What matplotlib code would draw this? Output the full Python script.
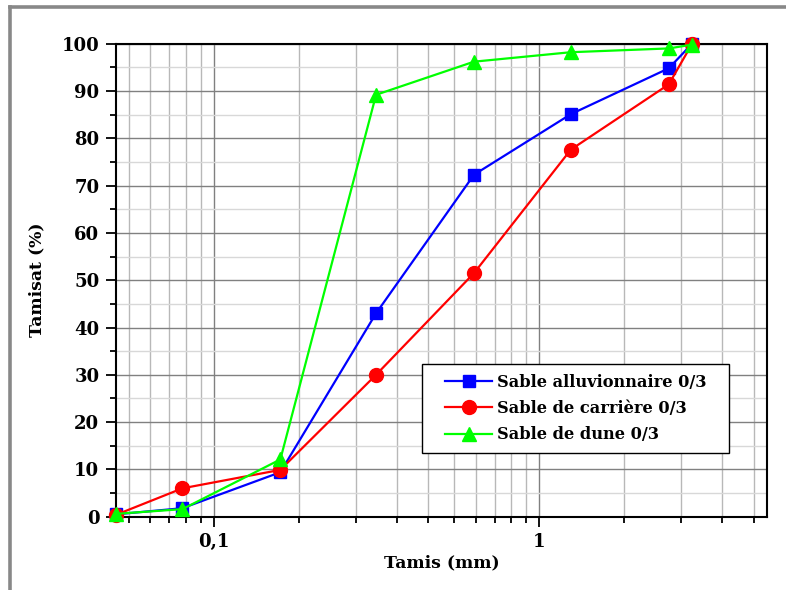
import numpy as np
import matplotlib

matplotlib.use("Agg")
import matplotlib.pyplot as plt
from matplotlib.lines import Line2D
from matplotlib.patches import Rectangle
from matplotlib.ticker import FixedLocator, MultipleLocator, FuncFormatter

plt.rcParams["font.family"] = ["DejaVu Serif"]
plt.rcParams["font.weight"] = "bold"

# tamis (mm) et passants cumulés (%)
TAMIS = [0.05, 0.08, 0.16, 0.315, 0.63, 1.25, 2.5, 2.95]
ALLUVIONNAIRE = [0.5, 1.8, 9.4, 43.0, 72.3, 85.1, 94.8, 100.0]
CARRIERE = [0.4, 6.0, 9.9, 30.0, 51.5, 77.6, 91.4, 100.0]
DUNE = [0.6, 1.6, 12.1, 89.2, 96.2, 98.2, 99.0, 99.8]

LABELS = ["Sable alluvionnaire 0/3", "Sable de carrière 0/3", "Sable de dune 0/3"]
COLORS = ["#0000ff", "#ff0000", "#00ff00"]
MARKERS = ["s", "o", "^"]
SIZES = [9.0, 10.0, 10.5]

W, H = 786, 590
fig = plt.figure(figsize=(W / 100, H / 100), dpi=100)
ax = fig.add_axes([116 / W, 1 - 516.7 / H, 650.7 / W, 473 / H])

for y, lab, col, mk, ms in zip([ALLUVIONNAIRE, CARRIERE, DUNE], LABELS, COLORS, MARKERS, SIZES):
    ax.plot(TAMIS, y, color=col, lw=1.6, marker=mk, ms=ms, label=lab, clip_on=False, zorder=3)

ax.set_xscale("log")
ax.set_xlim(0.05, 5)
ax.set_ylim(0, 100)

# graduations secondaires décalées (pas de 0,911 par décade)
ax.xaxis.set_major_locator(FixedLocator([0.1, 1]))
ax.xaxis.set_major_formatter(FuncFormatter(lambda v, p: f"{v:g}".replace(".", ",")))
minor = [0.00911 * k for k in range(6, 11)] + [0.0911 * k for k in range(2, 11)] + [0.911 * k for k in range(2, 6)]
ax.xaxis.set_minor_locator(FixedLocator(minor))
ax.xaxis.set_minor_formatter(FuncFormatter(lambda v, p: ""))
ax.yaxis.set_major_locator(MultipleLocator(10))
ax.yaxis.set_minor_locator(MultipleLocator(5))

ax.grid(True, which="major", color="#808080", lw=1.0, zorder=0)
ax.grid(True, which="minor", axis="x", color="#b8b8b8", lw=1.0, zorder=0)
ax.grid(True, which="minor", axis="y", color="#d8d8d8", lw=1.0, zorder=0)
ax.set_axisbelow(True)

for s in ax.spines.values():
    s.set_linewidth(1.5)
    s.set_color("black")
ax.tick_params(which="major", direction="out", length=7, width=1.3, labelsize=13, pad=5)
ax.tick_params(which="minor", direction="out", length=4, width=1.3)

ax.set_xlabel("Tamis (mm)", fontsize=12.4, fontweight="bold", labelpad=2)
ax.set_ylabel("Tamisat (%)", fontsize=12.4, fontweight="bold", labelpad=12)

# cadre de la légende, plus large que le contenu
ax.add_patch(Rectangle((0.4698, 0.134), 0.4727, 0.1888, transform=ax.transAxes,
                       facecolor="white", edgecolor="black", lw=1.0, zorder=4))
leg = ax.legend(loc="upper left", bbox_to_anchor=(0.5056, 0.302), frameon=False,
                fontsize=11.7, handlelength=2.9, borderpad=0, labelspacing=0.57,
                handletextpad=0.3, borderaxespad=0)
leg.set_zorder(5)
for t in leg.get_texts():
    t.set_fontweight("bold")

# cadre gris autour de la figure
fig.add_artist(Line2D([10 / W, 10 / W], [0, 1 - 6.5 / H], color="#888888", lw=2.6))
fig.add_artist(Line2D([10 / W, 1], [1 - 6.5 / H, 1 - 6.5 / H], color="#888888", lw=2.6))

fig.savefig("out.png", dpi=100)
